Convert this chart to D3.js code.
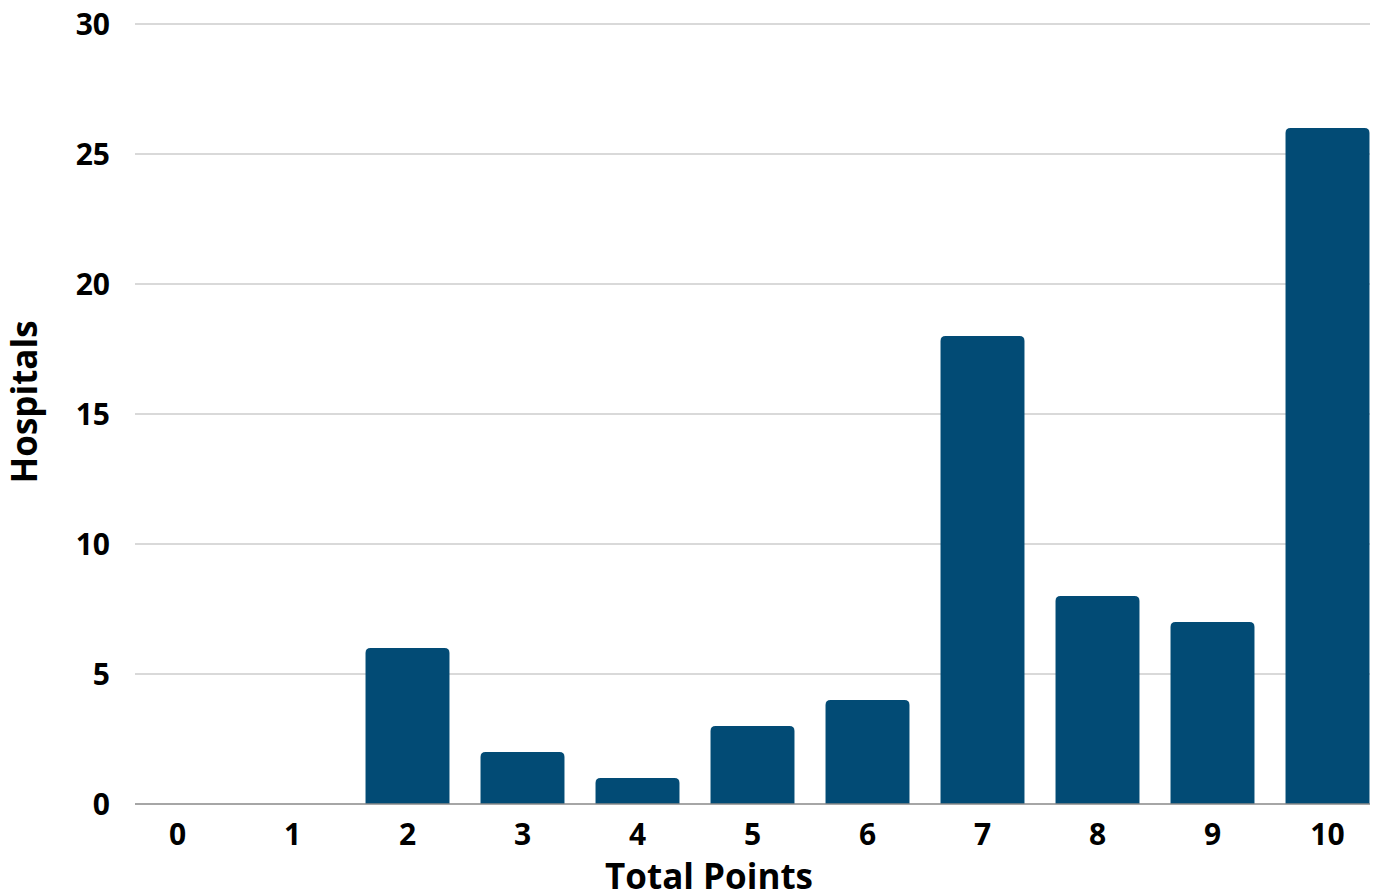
<!DOCTYPE html>
<html><head><meta charset="utf-8">
<script src="https://cdn.jsdelivr.net/npm/d3@7"></script>
<style>html,body{margin:0;padding:0;background:#fff;}svg{display:block;font-family:"Open Sans",sans-serif;}</style>
</head><body>
<svg id="c" width="1375" height="895"></svg>
<script>
const categories = ["0","1","2","3","4","5","6","7","8","9","10"];
const hospitals = [0,0,6,2,1,3,4,18,8,7,26];
const yTicks = [0,5,10,15,20,25,30];

(function(){
const svg = d3.select("#c");
const pLeft = 135, pRight = 1370, pTop = 24, pBottom = 804;
const x = d3.scaleBand().domain(categories).range([120, 1385]).paddingInner(0.27).paddingOuter(0.135);
const y = d3.scaleLinear().domain([0,30]).range([pBottom, pTop]);

// gridlines
svg.append("g").selectAll("line").data(yTicks.filter(d=>d>0)).join("line")
  .attr("x1", pLeft).attr("x2", pRight)
  .attr("y1", d=>y(d)).attr("y2", d=>y(d))
  .attr("stroke", "#cccccc").attr("stroke-width", 1.3);

// y tick labels
svg.append("g").selectAll("text").data(yTicks).join("text")
  .attr("x", 110).attr("y", d=>y(d)).attr("dy","0.35em")
  .attr("text-anchor","end").attr("font-size", 30).attr("font-weight", 700)
  .attr("fill","#000").text(d=>d);

// bars with rounded tops
const r = 5;
svg.append("g").selectAll("path").data(categories.map((c,i)=>({c, v:hospitals[i]})).filter(d=>d.v>0)).join("path")
  .attr("fill", "#024b75")
  .attr("d", d=>{
    const x0 = x(d.c), w = x.bandwidth(), y0 = y(d.v), y1 = y(0);
    return `M${x0},${y1}V${y0+r}Q${x0},${y0} ${x0+r},${y0}H${x0+w-r}Q${x0+w},${y0} ${x0+w},${y0+r}V${y1}Z`;
  });

// baseline
svg.append("line").attr("x1", pLeft).attr("x2", pRight).attr("y1", y(0)).attr("y2", y(0))
  .attr("stroke", "#888888").attr("stroke-width", 1.5);

// x labels
svg.append("g").selectAll("text").data(categories).join("text")
  .attr("x", d=>x(d)+x.bandwidth()/2).attr("y", 834).attr("dy","0.35em")
  .attr("text-anchor","middle").attr("font-size", 30).attr("font-weight", 700)
  .attr("fill","#000").text(d=>d);

// axis titles
svg.append("text").attr("x", 709).attr("y", 889).attr("text-anchor","middle")
  .attr("font-size", 35).attr("font-weight", 700).attr("fill","#000").text("Total Points");
svg.append("text").attr("transform","translate(37,402) rotate(-90)").attr("text-anchor","middle")
  .attr("font-size", 35).attr("font-weight", 700).attr("fill","#000").text("Hospitals");
})();
</script>
</body></html>
